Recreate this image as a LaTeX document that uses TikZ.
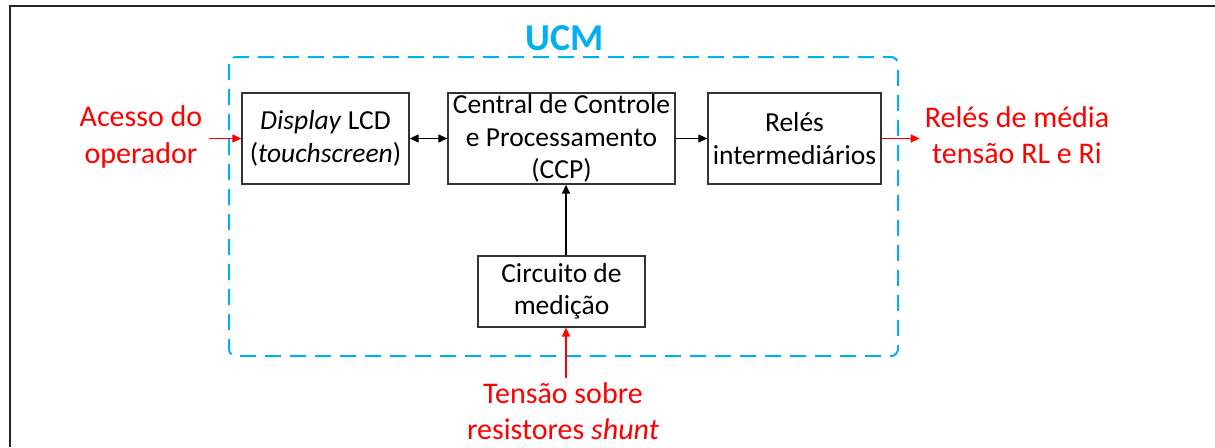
\documentclass[tikz,border=0pt]{standalone}
\usepackage{fontspec}
\setmainfont{Carlito}
\usetikzlibrary{arrows.meta,positioning}
\definecolor{ucmblue}{HTML}{00B0F0}
\definecolor{sigred}{HTML}{FF0000}

\begin{document}
\begin{tikzpicture}[x=1pt,y=-1pt,>={Triangle[length=9pt,width=8pt]},
    block/.style={draw=black!80,line width=1.3pt,align=center,inner sep=0pt,font=\fontsize{27.5}{32.5}\selectfont},
    signal/.style={text=sigred,align=center,font=\fontsize{30}{36}\selectfont},
    wire/.style={->,line width=1.2pt},
    redwire/.style={->,draw=sigred,line width=1.2pt}]

\useasboundingbox (0,0) rectangle (1215,447);
\draw[black!85,line width=2pt] (9.5,447) -- (9.5,6) -- (1215,6);

\draw[ucmblue,line width=2pt,dash pattern=on 16pt off 9pt,rounded corners=7pt]
    (229,57) rectangle (898,356);
\node[text=ucmblue,font=\fontsize{38}{42}\selectfont\bfseries] (ucm) at (565,38.5) {UCM};

\node[block,minimum width=167pt,minimum height=91pt] (lcd)  at (325.5,138.5) {\textit{Display} LCD\\(\textit{touchscreen})};
\node[block,minimum width=227pt,minimum height=91pt] (ccp)  at (561.5,138.5) {Central de Controle\\e Processamento\\(CCP)};
\node[block,minimum width=173pt,minimum height=91pt] (rel)  at (794.5,138.5) {Relés\\intermediários};
\node[block,minimum width=167pt,minimum height=71pt] (med)  at (561.5,291.5) {Circuito de\\medição};

\node[signal] (op)    at (141,137)  {Acesso do\\operador};
\node[signal] (rmt)   at (1017,135) {Relés de média\\tensão RL e Ri};
\node[signal] (shunt) at (563,411)  {Tensão sobre\\resistores \textit{shunt}};

\path
(lcd) edge[wire,<->] (ccp)
(ccp) edge[wire] (rel)
([xshift=4.5pt]med.north) edge[wire] ([xshift=4.5pt]med.north |- ccp.south)
([xshift=-32pt]lcd.west) edge[redwire] (lcd.west)
(rel.east) edge[redwire] ([xshift=38pt]rel.east)
([xshift=4.5pt,yshift=-50pt]med.south) edge[redwire] ([xshift=4.5pt]med.south);
\end{tikzpicture}
\end{document}
